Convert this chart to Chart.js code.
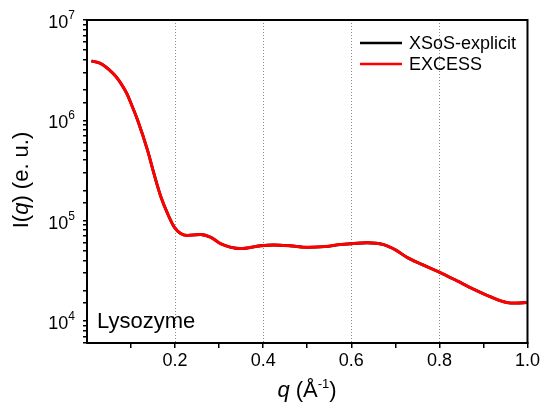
<!DOCTYPE html>
<html>
<head>
<meta charset="utf-8">
<script src="https://cdn.jsdelivr.net/npm/chart.js@4"></script>
<style>
html,body{margin:0;padding:0;background:#fff;}
#wrap{width:542px;height:405px;position:relative;}
</style>
</head>
<body>
<div id="wrap"><canvas id="c" width="542" height="405"></canvas></div>
<script>
// ---- data ----
const qValues = [0.01,0.03,0.05,0.065,0.077,0.09,0.10,0.115,0.1375,0.152,0.168,0.183,0.198,0.213,0.228,0.258,0.281,0.304,0.325,0.349,0.394,0.424,0.46,0.50,0.54,0.575,0.636,0.673,0.70,0.726,0.76,0.80,0.84,0.877,0.915,0.953,0.975,0.998];
const xsosValues = [3.9e6,3.7e6,3.2e6,2.75e6,2.33e6,1.86e6,1.47e6,1.0e6,5.0e5,2.93e5,1.71e5,1.17e5,8.6e4,7.4e4,7.1e4,7.25e4,6.8e4,5.85e4,5.43e4,5.25e4,5.6e4,5.7e4,5.6e4,5.4e4,5.5e4,5.75e4,6.0e4,5.75e4,5.1e4,4.3e4,3.65e4,3.05e4,2.5e4,2.07e4,1.74e4,1.52e4,1.5e4,1.52e4];
const excessValues = [3.9e6,3.7e6,3.2e6,2.75e6,2.33e6,1.86e6,1.47e6,1.0e6,5.0e5,2.93e5,1.71e5,1.17e5,8.6e4,7.4e4,7.1e4,7.25e4,6.8e4,5.85e4,5.43e4,5.25e4,5.6e4,5.7e4,5.6e4,5.4e4,5.5e4,5.75e4,6.0e4,5.75e4,5.1e4,4.3e4,3.65e4,3.05e4,2.5e4,2.07e4,1.74e4,1.52e4,1.5e4,1.52e4];
const seriesNames = ['XSoS-explicit','EXCESS'];
const seriesColors = ['#000000','#ff0000'];
const xLabelTicks = [0.2,0.4,0.6,0.8,1.0];
const gridTicks = [0.2,0.4,0.6,0.8];
const yDecades = [4,5,6,7];
const panelLabel = 'Lysozyme';

const FONT = '"Liberation Sans", Arial, Helvetica, sans-serif';

function pts(vals){ return qValues.map((q,i)=>({x:q,y:vals[i]})); }

const decorPlugin = {
  id:'decor',
  beforeDatasetsDraw(chart){
    const ctx = chart.ctx, a = chart.chartArea, xs = chart.scales.x;
    ctx.save();
    ctx.strokeStyle = '#8a8a8a';
    ctx.lineWidth = 1;
    ctx.setLineDash([1,2]);
    gridTicks.forEach(v=>{
      const px = Math.round(xs.getPixelForValue(v))+0.5;
      ctx.beginPath(); ctx.moveTo(px,a.top); ctx.lineTo(px,a.bottom); ctx.stroke();
    });
    ctx.restore();
  },
  afterDraw(chart){
    const ctx = chart.ctx, a = chart.chartArea, ys = chart.scales.y;
    ctx.save();
    // top & right frame
    ctx.strokeStyle = '#000'; ctx.lineWidth = 2; ctx.setLineDash([]);
    ctx.beginPath();
    ctx.moveTo(a.left-1, a.top); ctx.lineTo(a.right, a.top); ctx.lineTo(a.right, a.bottom+1);
    ctx.stroke();
    // y tick labels 10^n
    ctx.fillStyle = '#000';
    ctx.textBaseline = 'alphabetic';
    yDecades.forEach(k=>{
      const py = ys.getPixelForValue(Math.pow(10,k));
      ctx.font = '12px ' + FONT;
      const ew = ctx.measureText(String(k)).width;
      ctx.textAlign = 'right';
      ctx.fillText(String(k), 75, py - 1);
      ctx.font = '18px ' + FONT;
      ctx.fillText('10', 75 - ew, py + 8);
    });
    // y axis title: I(q) (e. u.)
    ctx.save();
    ctx.translate(28, 180);
    ctx.rotate(-Math.PI/2);
    const parts = [['I(', 'normal'],['q','italic'],[') (e. u.)','normal']];
    let total = 0;
    parts.forEach(p=>{ ctx.font = p[1]+' 22px '+FONT; total += ctx.measureText(p[0]).width; });
    let x0 = -total/2;
    ctx.textAlign = 'left';
    parts.forEach(p=>{ ctx.font = p[1]+' 22px '+FONT; ctx.fillText(p[0], x0, 0); x0 += ctx.measureText(p[0]).width; });
    ctx.restore();
    // x axis title: q (Å-1)
    {
      const segs = [['q','italic 22px ',0],[' (Å','22px ',0],['-1','13px ',-9],[')','22px ',0]];
      let w = 0;
      segs.forEach(s=>{ ctx.font = s[1]+FONT; w += ctx.measureText(s[0]).width; });
      let xx = 307 - w/2;
      ctx.textAlign = 'left';
      segs.forEach(s=>{ ctx.font = s[1]+FONT; ctx.fillText(s[0], xx, 397 + s[2]); xx += ctx.measureText(s[0]).width; });
    }
    // panel label
    ctx.font = '22px ' + FONT;
    ctx.textAlign = 'left';
    ctx.fillText(panelLabel, 97, 328);
    // legend
    ctx.textBaseline = 'middle';
    ctx.font = '18px ' + FONT;
    chart.data.datasets.forEach((ds,i)=>{
      const ly = 43 + i*21;
      ctx.strokeStyle = ds.borderColor; ctx.lineWidth = 2.5;
      ctx.beginPath(); ctx.moveTo(360, ly); ctx.lineTo(402, ly); ctx.stroke();
      ctx.fillStyle = '#000';
      ctx.fillText(ds.label, 409, ly + 1);
    });
    ctx.restore();
  }
};

new Chart(document.getElementById('c'), {
  type:'line',
  data:{
    datasets:[
      {label:seriesNames[0], data:pts(xsosValues), borderColor:seriesColors[0], borderWidth:2.8, pointRadius:0, cubicInterpolationMode:'monotone', fill:false, order:2},
      {label:seriesNames[1], data:pts(excessValues), borderColor:seriesColors[1], borderWidth:3, pointRadius:0, cubicInterpolationMode:'monotone', fill:false, order:1}
    ]
  },
  options:{
    responsive:false,
    animation:false,
    devicePixelRatio:1,
    layout:{padding:{left:0,top:20,right:14,bottom:0}},
    plugins:{legend:{display:false}, tooltip:{enabled:false}},
    scales:{
      x:{
        type:'linear', min:0, max:1,
        border:{display:true, color:'#000', width:2},
        grid:{display:true, drawOnChartArea:false, color:'#000', lineWidth:1.5, tickLength:5},
        ticks:{stepSize:0.1, color:'#000', font:{family:FONT, size:18}, padding:2, maxRotation:0,
          callback:(v)=> xLabelTicks.some(t=>Math.abs(t-v)<1e-6) ? v.toFixed(1) : ''},
        afterBuildTicks:(s)=>{ s.ticks = s.ticks.filter(t=>t.value>0.001); },
        afterFit:(s)=>{ s.height = 62; }
      },
      y:{
        type:'logarithmic', min:6000, max:1e7,
        border:{display:true, color:'#000', width:2},
        grid:{display:true, drawOnChartArea:false, color:'#000', lineWidth:1.5, tickLength:4},
        ticks:{display:false},
        afterFit:(s)=>{ s.width = 87; }
      }
    }
  },
  plugins:[decorPlugin]
});
</script>
</body>
</html>
